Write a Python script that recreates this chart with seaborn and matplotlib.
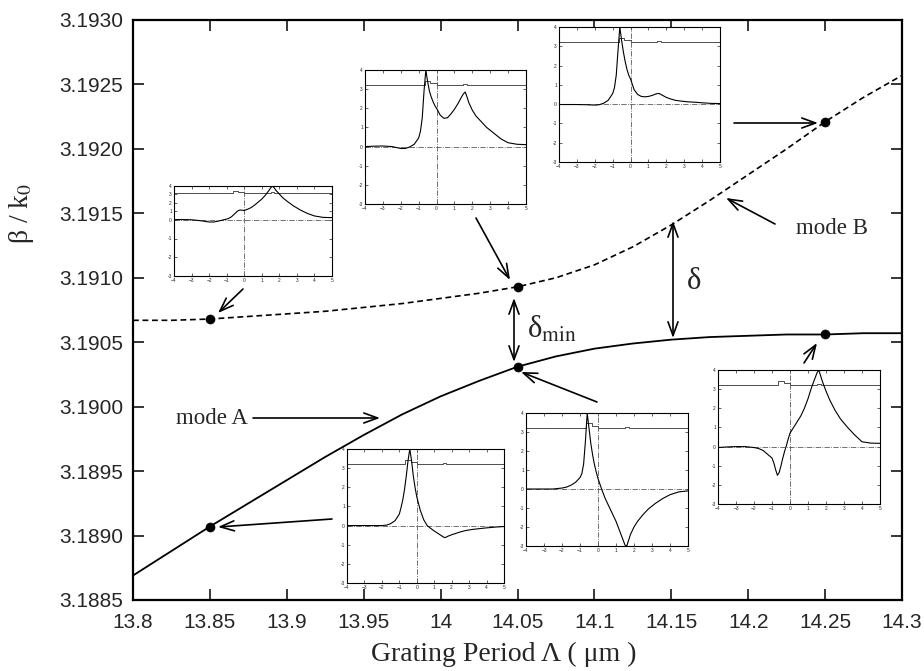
import matplotlib
matplotlib.use("Agg")
import matplotlib.pyplot as plt
import numpy as np
import pandas as pd
import seaborn as sns

# ---------------- data ----------------
period = [13.8, 13.825, 13.85, 13.875, 13.9, 13.925, 13.95, 13.975, 14.0, 14.025,
          14.05, 14.075, 14.1, 14.125, 14.15, 14.175, 14.2, 14.225, 14.25, 14.275, 14.3]
mode_a = [3.18869, 3.18888, 3.18907, 3.18925, 3.18943, 3.18961, 3.18978, 3.18994, 3.19008, 3.19020,
          3.19031, 3.19039, 3.19045, 3.19049, 3.19052, 3.19054, 3.19055, 3.19056, 3.19056, 3.19057, 3.19057]
mode_b = [3.19067, 3.19067, 3.19068, 3.19070, 3.19072, 3.19074, 3.19077, 3.19080, 3.19084, 3.19088,
          3.19093, 3.19100, 3.19110, 3.19124, 3.19141, 3.19160, 3.19180, 3.19200, 3.19221, 3.19240, 3.19257]
marked_idx = [2, 10, 18]   # 13.85, 14.05, 14.25

xtick_vals = [13.8, 13.85, 13.9, 13.95, 14.0, 14.05, 14.1, 14.15, 14.2, 14.25, 14.3]
xtick_labels = ["13.8", "13.85", "13.9", "13.95", "14", "14.05", "14.1", "14.15", "14.2", "14.25", "14.3"]
ytick_vals = [3.1885, 3.1890, 3.1895, 3.1900, 3.1905, 3.1910, 3.1915, 3.1920, 3.1925, 3.1930]
ytick_labels = ["3.1885", "3.1890", "3.1895", "3.1900", "3.1905", "3.1910", "3.1915", "3.1920", "3.1925", "3.1930"]

# field profiles shown in the insets
inset_x = [-4, -3.5, -3, -2.5, -2, -1.75, -1.5, -1.25, -1.0, -0.9, -0.8, -0.7, -0.6, -0.5, -0.4,
           -0.3, -0.2, -0.1, 0, 0.2, 0.4, 0.6, 0.8, 1.0, 1.2, 1.4, 1.5, 1.6, 1.7, 1.8,
           2.0, 2.2, 2.5, 2.8, 3.2, 3.6, 4.0, 4.5, 5.0]
field_b_1385 = [0.02, 0.02, 0.0, -0.05, -0.12, -0.12, -0.08, -0.02, 0.08, 0.15, 0.25, 0.4, 0.6, 0.8, 1.0,
                1.12, 1.15, 1.12, 1.1, 1.25, 1.45, 1.75, 2.1, 2.45, 2.9, 3.45, 3.75, 4.0, 3.8, 3.5,
                3.05, 2.6, 2.1, 1.65, 1.15, 0.75, 0.45, 0.28, 0.25]
field_b_1405 = [0.0, 0.02, 0.03, 0.0, -0.1, -0.1, -0.02, 0.12, 0.45, 0.8, 1.5, 2.9, 4.0, 3.4, 2.9,
                2.6, 2.35, 2.15, 2.0, 1.65, 1.48, 1.5, 1.7, 1.95, 2.25, 2.6, 2.75, 2.85, 2.6, 2.3,
                1.9, 1.6, 1.3, 1.0, 0.7, 0.4, 0.2, 0.12, 0.1]
field_b_1425 = [-0.02, -0.02, -0.02, -0.03, -0.05, -0.03, 0.05, 0.2, 0.55, 0.85, 1.5, 2.8, 4.0, 3.3, 2.7,
                2.2, 1.8, 1.5, 1.3, 0.75, 0.5, 0.4, 0.38, 0.4, 0.45, 0.52, 0.55, 0.55, 0.5, 0.45,
                0.35, 0.28, 0.2, 0.16, 0.12, 0.1, 0.07, 0.04, 0.03]
field_a_1385 = [0.0, 0.0, 0.0, 0.0, 0.0, 0.02, 0.1, 0.25, 0.6, 0.95, 1.35, 1.9, 2.6, 3.4, 4.0,
                3.4, 2.6, 2.0, 1.5, 0.8, 0.3, 0.0, -0.15, -0.28, -0.4, -0.52, -0.58, -0.63, -0.6, -0.55,
                -0.48, -0.42, -0.33, -0.26, -0.2, -0.16, -0.12, -0.08, -0.05]
field_a_1405 = [0.0, 0.0, 0.0, 0.0, 0.05, 0.1, 0.2, 0.35, 0.6, 0.8, 1.3, 2.5, 4.0, 3.2, 2.4,
                1.8, 1.3, 0.9, 0.55, 0.0, -0.5, -0.9, -1.3, -1.7, -2.2, -2.7, -2.95, -3.0, -2.7, -2.4,
                -2.0, -1.7, -1.35, -1.05, -0.75, -0.5, -0.3, -0.15, -0.1]
field_a_1425 = [-0.05, -0.02, 0.0, 0.0, -0.05, -0.1, -0.2, -0.4, -0.6, -0.85, -1.2, -1.5, -1.35, -1.0, -0.6,
                -0.25, 0.05, 0.4, 0.7, 1.0, 1.3, 1.6, 2.0, 2.5, 3.1, 3.6, 3.85, 4.0, 3.7, 3.4,
                2.9, 2.45, 1.9, 1.45, 1.0, 0.6, 0.25, 0.18, 0.17]
index_x = [-4, -0.65, -0.65, -0.35, -0.35, 0, 0, 1.5, 1.5, 1.7, 1.7, 5]
index_n = [3.2, 3.2, 3.45, 3.45, 3.3, 3.3, 3.2, 3.2, 3.28, 3.28, 3.2, 3.2]

# ---------------- style ----------------
sns.set_style("ticks")
plt.rcParams["font.family"] = ["Liberation Sans", "DejaVu Sans"]
plt.rcParams["mathtext.fontset"] = "stix"
SERIF = ["Liberation Serif", "DejaVu Serif"]

W, H = 924, 671
fig = plt.figure(figsize=(W / 100, H / 100), dpi=100)
fig.patch.set_facecolor("white")

# main axes box in pixels
AX0, AX1, AY0, AY1 = 133, 902, 20, 600
ax = fig.add_axes([AX0 / W, 1 - AY1 / H, (AX1 - AX0) / W, (AY1 - AY0) / H])


def px(x, y):
    """pixel position in the figure -> data coords of main axes"""
    return (13.8 + (x - AX0) / (AX1 - AX0) * 0.5,
            3.1885 + (AY1 - y) / (AY1 - AY0) * 0.0045)


df = pd.DataFrame({"period": period, "A": mode_a, "B": mode_b})
sns.lineplot(data=df, x="period", y="A", ax=ax, color="k", lw=1.3)
sns.lineplot(data=df, x="period", y="B", ax=ax, color="k", lw=1.2, linestyle=(0, (3.5, 2.2)))
mk_x = [period[i] for i in marked_idx] * 2
mk_y = [mode_a[i] for i in marked_idx] + [mode_b[i] for i in marked_idx]
sns.scatterplot(x=mk_x, y=mk_y, ax=ax, color="k", s=42, edgecolor="k", linewidth=0.5, zorder=6)

ax.set_xlim(13.8, 14.3)
ax.set_ylim(3.1885, 3.1930)
ax.set_xticks(xtick_vals)
ax.set_xticklabels(xtick_labels)
ax.set_yticks(ytick_vals)
ax.set_yticklabels(ytick_labels)
ax.tick_params(direction="in", length=8, width=1.3, top=True, right=True, labelsize=15)
ax.tick_params(axis="y", pad=7)
ax.tick_params(axis="x", pad=9)
for s in ax.spines.values():
    s.set_visible(True)
    s.set_linewidth(1.6)
    s.set_color("k")

ax.set_xlabel("Grating Period Λ ( μm )", fontfamily=SERIF, fontsize=20)
ax.xaxis.set_label_coords((504 - AX0) / (AX1 - AX0), -0.073)
ax.set_ylabel("β / k$_0$", fontfamily=SERIF, fontsize=20)
ax.yaxis.set_label_coords((36 - AX0) / (AX1 - AX0), (AY1 - 213) / (AY1 - AY0))

# ---------------- arrows & labels ----------------
def arrow(tail, head, style="->"):
    ax.annotate("", xy=px(*head), xytext=px(*tail),
                arrowprops=dict(arrowstyle=style + ",head_length=0.55,head_width=0.2",
                                lw=1.2, color="k", shrinkA=0, shrinkB=0, mutation_scale=18),
                zorder=4)

arrow((243, 289), (218, 313))
arrow((476, 218), (510, 280))
arrow((734, 123), (818, 123))
arrow((775, 224), (726, 198))
arrow((673, 221), (673, 338), "<->")
arrow((514, 298), (514, 362), "<->")
arrow((597, 402), (521, 372))
arrow((253, 418), (380, 418))
arrow((332, 519), (218, 527))
arrow((804, 363), (817, 343))

ax.text(*px(832, 229), "mode B", fontfamily=SERIF, fontsize=16.5, ha="center", va="center")
ax.text(*px(212, 419), "mode A", fontfamily=SERIF, fontsize=16.5, ha="center", va="center")
ax.text(*px(694, 282), "δ", fontfamily=SERIF, fontsize=22, ha="center", va="center")
ax.text(*px(527, 330), "δ$_{\\rm min}$", fontfamily=SERIF, fontsize=22, ha="left", va="center")

# ---------------- insets ----------------
def inset(box, field, upper_squash=None):
    x0, y0, x1, y1 = box
    iax = fig.add_axes([x0 / W, 1 - y1 / H, (x1 - x0) / W, (y1 - y0) / H])
    iax.set_facecolor("white")
    if upper_squash is not None:
        k = upper_squash
        fwd = lambda v: np.where(np.asarray(v) > 0, np.asarray(v) * k, np.asarray(v))
        inv = lambda v: np.where(np.asarray(v) > 0, np.asarray(v) / k, np.asarray(v))
        iax.set_yscale("function", functions=(fwd, inv))
    iax.axhline(0, color="0.35", lw=0.6, ls="-.")
    iax.axvline(0, color="0.35", lw=0.6, ls="-.")
    sns.lineplot(x=index_x, y=index_n, ax=iax, color="0.3", lw=0.7, estimator=None, sort=False)
    sns.lineplot(x=inset_x, y=field, ax=iax, color="k", lw=0.8, estimator=None, sort=False)
    iax.set_xlim(-4, 5)
    iax.set_ylim(-3, 4)
    iax.set_xticks(list(range(-4, 6)))
    iax.set_yticks(list(range(-3, 5)))
    iax.set_yticklabels([str(v) for v in range(-3, 5)])
    iax.yaxis.set_minor_locator(matplotlib.ticker.NullLocator())
    iax.tick_params(direction="in", length=2, width=0.5, labelsize=3.5, pad=1.5,
                    top=True, right=True)
    iax.set_xlabel("")
    iax.set_ylabel("")
    for s in iax.spines.values():
        s.set_visible(True)
        s.set_linewidth(0.8)
        s.set_color("k")

inset((174, 186, 332, 276), field_b_1385, upper_squash=0.45)
inset((365, 70, 526, 204), field_b_1405)
inset((559, 27, 720, 162), field_b_1425)
inset((526, 413, 688, 546), field_a_1405)
inset((347, 449, 504, 583), field_a_1385)
inset((718, 370, 880, 504), field_a_1425)

fig.savefig("out.png", dpi=100)
